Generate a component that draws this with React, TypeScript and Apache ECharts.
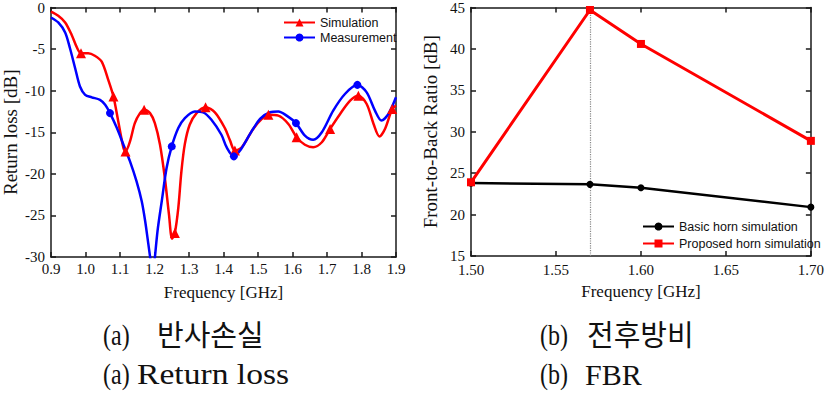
import React, { useEffect, useRef } from "react";
import * as echarts from "echarts";

// ---------- (a) Return loss ----------
const simFreq = [0.900, 0.921, 0.941, 0.960, 0.974, 0.987, 1.008, 1.027, 1.047, 1.066, 1.081, 1.095, 1.110, 1.116, 1.129, 1.143, 1.158, 1.170, 1.187, 1.201, 1.216, 1.230, 1.242, 1.251, 1.259, 1.269, 1.278, 1.288, 1.302, 1.322, 1.348, 1.375, 1.404, 1.419, 1.433, 1.453, 1.486, 1.511, 1.530, 1.559, 1.588, 1.612, 1.636, 1.660, 1.685, 1.709, 1.738, 1.767, 1.791, 1.815, 1.835, 1.852, 1.868, 1.889, 1.900];
const simRL = [-0.5, -1.0, -1.8, -3.3, -4.7, -5.5, -5.5, -5.8, -6.5, -8.7, -10.7, -13.7, -16.9, -17.3, -16.1, -13.9, -12.7, -12.3, -12.7, -13.9, -16.5, -20.5, -24.9, -27.8, -27.1, -24.1, -19.7, -16.4, -14.1, -12.7, -12.0, -12.6, -14.5, -16.0, -17.2, -16.8, -14.6, -13.4, -12.9, -13.0, -14.0, -15.6, -16.5, -16.8, -16.2, -14.6, -12.8, -11.2, -10.6, -11.6, -14.0, -15.5, -14.6, -12.2, -11.8];
const simMarkers = [0.987, 1.081, 1.116, 1.170, 1.259, 1.348, 1.433, 1.530, 1.612, 1.709, 1.791, 1.889];

const measFreq = [0.900, 0.921, 0.941, 0.955, 0.970, 0.984, 0.999, 1.018, 1.042, 1.057, 1.071, 1.091, 1.110, 1.129, 1.148, 1.163, 1.173, 1.182, 1.189, 1.195, 1.200, 1.209, 1.221, 1.235, 1.250, 1.269, 1.288, 1.317, 1.341, 1.365, 1.394, 1.409, 1.430, 1.448, 1.477, 1.506, 1.535, 1.559, 1.583, 1.610, 1.636, 1.660, 1.685, 1.718, 1.752, 1.788, 1.815, 1.839, 1.858, 1.878, 1.900];
const measRL = [-1.2, -1.8, -3.0, -4.9, -7.3, -9.5, -10.5, -10.8, -11.1, -11.7, -12.7, -14.5, -16.5, -18.5, -20.9, -23.3, -25.7, -28.4, -30.5, -32.0, -30.5, -26.8, -23.3, -19.3, -16.7, -14.5, -13.3, -12.5, -12.6, -13.5, -15.3, -16.8, -17.9, -17.2, -15.2, -13.4, -12.6, -12.5, -13.0, -13.9, -15.4, -15.9, -15.0, -12.4, -10.4, -9.3, -10.2, -12.4, -13.6, -12.8, -10.8];
const measMarkers = [1.071, 1.250, 1.430, 1.610, 1.788];

// ---------- (b) FBR ----------
const fbrFreq = [1.50, 1.57, 1.60, 1.70];
const basicFBR = [23.8, 23.65, 23.25, 20.9];
const proposedFBR = [23.9, 44.7, 40.6, 28.9];
const fbrMarkFreq = 1.57;

// ---------- texts ----------
const rlXName = "Frequency [GHz]";
const rlYName = "Return loss [dB]";
const fbrXName = "Frequency [GHz]";
const fbrYName = "Front-to-Back Ratio [dB]";
const legendA = ["Simulation", "Measurement"];
const legendB = ["Basic horn simulation", "Proposed horn simulation"];
const captionTags = ["(a)", "(b)"];
const captionKo = ["반사손실", "전후방비"];
const captionEn = ["Return loss", "FBR"];

const SERIF = "'Liberation Serif', 'Times New Roman', serif";
const SANS = "'Liberation Sans', Arial, sans-serif";
const KR = "'Noto Sans CJK KR', sans-serif";

function mk(freq: number[], vals: number[], markers: number[]) {
  return freq.map((f, i) =>
    markers.indexOf(f) >= 0
      ? { value: [f, vals[i]] }
      : { value: [f, vals[i]], symbol: "none" }
  );
}

const axisLineStyle = { color: "#1a1a1a", width: 1.5 };
const labelStyle = { fontFamily: SERIF, fontSize: 15, color: "#111", lineHeight: 12 };

function xAx(grid: number, min: number, max: number, interval: number, dec: number, name: string, margin: number) {
  return [
    {
      gridIndex: grid, type: "value", min, max, interval, position: "bottom",
      axisLine: { onZero: false, lineStyle: axisLineStyle },
      axisTick: { inside: true, length: 5, lineStyle: axisLineStyle },
      axisLabel: { ...labelStyle, margin, formatter: (v: number) => v.toFixed(dec) },
      splitLine: { show: false },
      name, nameLocation: "middle", nameGap: 27,
      nameTextStyle: { fontFamily: SERIF, fontSize: 17, color: "#111" },
    },
    {
      gridIndex: grid, type: "value", min, max, interval, position: "top",
      axisLine: { onZero: false, lineStyle: axisLineStyle },
      axisTick: { inside: true, length: 5, lineStyle: axisLineStyle },
      axisLabel: { show: false },
      splitLine: { show: false },
    },
  ];
}

function yAx(grid: number, min: number, max: number, interval: number, name: string) {
  return [
    {
      gridIndex: grid, type: "value", min, max, interval, position: "left",
      axisLine: { show: true, onZero: false, lineStyle: axisLineStyle },
      axisTick: { show: true, inside: true, length: 5, lineStyle: axisLineStyle },
      axisLabel: { ...labelStyle, margin: 6 },
      splitLine: { show: false },
      name, nameLocation: "middle", nameGap: 31,
      nameTextStyle: { fontFamily: SERIF, fontSize: 19, color: "#111" },
    },
    {
      gridIndex: grid, type: "value", min, max, interval, position: "right",
      axisLine: { show: true, onZero: false, lineStyle: axisLineStyle },
      axisTick: { show: true, inside: true, length: 5, lineStyle: axisLineStyle },
      axisLabel: { show: false },
      splitLine: { show: false },
    },
  ];
}

export default function App() {
  const ref = useRef<HTMLDivElement>(null);
  useEffect(() => {
    if (!ref.current) return;
    const chart = echarts.init(ref.current, null, { renderer: "svg" });
    const tagStyle = { font: `30px ${SERIF}`, fill: "#111" };
    const option: any = {
      animation: false,
      backgroundColor: "#fff",
      grid: [
        { left: 51, top: 6, width: 345, height: 251 },
        { left: 471, top: 6, width: 343, height: 250 },
      ],
      xAxis: [
        ...xAx(0, 0.9, 1.9, 0.1, 1, rlXName, 6),
        ...xAx(1, 1.5, 1.7, 0.05, 2, fbrXName, 8),
      ],
      yAxis: [
        ...yAx(0, -30, 0, 5, rlYName),
        ...yAx(1, 15, 45, 5, fbrYName),
      ],
      legend: [
        {
          data: legendA, orient: "vertical", left: 278, top: 11,
          itemWidth: 31, itemHeight: 10, itemGap: 2,
          textStyle: { fontFamily: SANS, fontSize: 12.5, color: "#111", lineHeight: 13 },
        },
        {
          data: legendB, orient: "vertical", left: 637, top: 215,
          itemWidth: 31, itemHeight: 10, itemGap: 4,
          textStyle: { fontFamily: SANS, fontSize: 12.5, color: "#111", lineHeight: 13 },
        },
      ],
      series: [
        {
          type: "line", name: legendA[0], xAxisIndex: 0, yAxisIndex: 0,
          data: mk(simFreq, simRL, simMarkers), smooth: 0.3,
          symbol: "triangle", symbolSize: 10, showSymbol: true,
          lineStyle: { color: "#ff0000", width: 2.5 }, itemStyle: { color: "#ff0000" },
        },
        {
          type: "line", name: legendA[1], xAxisIndex: 0, yAxisIndex: 0,
          data: mk(measFreq, measRL, measMarkers), smooth: 0.3,
          symbol: "circle", symbolSize: 8, showSymbol: true,
          lineStyle: { color: "#0000ff", width: 2.5 }, itemStyle: { color: "#0000ff" },
        },
        {
          type: "line", name: legendB[0], xAxisIndex: 2, yAxisIndex: 2,
          data: fbrFreq.map((f, i) => [f, basicFBR[i]]),
          symbol: "circle", symbolSize: 7,
          lineStyle: { color: "#000", width: 2.5 }, itemStyle: { color: "#000" },
        },
        {
          type: "line", name: legendB[1], xAxisIndex: 2, yAxisIndex: 2,
          data: fbrFreq.map((f, i) => [f, proposedFBR[i]]),
          symbol: "rect", symbolSize: 8,
          lineStyle: { color: "#ff0000", width: 3 }, itemStyle: { color: "#ff0000" },
          markLine: {
            silent: true, symbol: "none", label: { show: false },
            lineStyle: { color: "#888", type: "dotted", width: 1.2 },
            data: [[{ coord: [fbrMarkFreq, 15] }, { coord: [fbrMarkFreq, 45] }]],
            z: 1,
          },
        },
      ],
      graphic: [
        { type: "text", x: 103, y: 320, scaleX: 0.8, style: { text: captionTags[0], ...tagStyle } },
        { type: "text", x: 157, y: 318, style: { text: captionKo[0], font: `29px ${KR}`, fill: "#111" } },
        { type: "text", x: 103, y: 359, scaleX: 0.8, style: { text: captionTags[0], ...tagStyle } },
        { type: "text", x: 137, y: 359, scaleX: 1.12, style: { text: captionEn[0], ...tagStyle } },
        { type: "text", x: 540, y: 320, scaleX: 0.8, style: { text: captionTags[1], ...tagStyle } },
        { type: "text", x: 587, y: 318, style: { text: captionKo[1], font: `29px ${KR}`, fill: "#111" } },
        { type: "text", x: 540, y: 359, scaleX: 0.8, style: { text: captionTags[1], ...tagStyle } },
        { type: "text", x: 585, y: 359, style: { text: captionEn[1], ...tagStyle } },
      ],
    };
    chart.setOption(option);
    return () => chart.dispose();
  }, []);
  return (
    <div
      ref={ref}
      style={{ position: "fixed", left: 0, top: 0, width: 827, height: 398, background: "#fff" }}
    />
  );
}
